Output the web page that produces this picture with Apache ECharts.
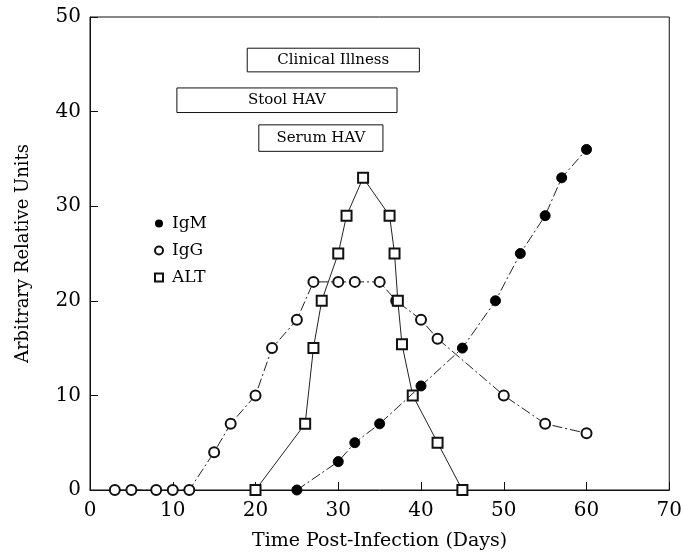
<!DOCTYPE html>
<html>
<head>
<meta charset="utf-8">
<script src="https://cdn.jsdelivr.net/npm/echarts@6/dist/echarts.min.js"></script>
<style>
  html, body { margin: 0; padding: 0; background: #fff; }
  #div_chart { width: 685px; height: 556px; }
</style>
</head>
<body>
<div id="div_chart"></div>
<script>
// IgM (filled circles)
var igmDays = [25, 30, 32, 35, 40, 45, 49, 52, 55, 57, 60];
var igmValues = [0, 3, 5, 7, 11, 15, 20, 25, 29, 33, 36];
// IgG (open circles)
var iggDays = [3, 5, 8, 10, 12, 15, 17, 20, 22, 25, 27, 30, 32, 35, 37, 40, 42, 50, 55, 60];
var iggValues = [0, 0, 0, 0, 0, 4, 7, 10, 15, 18, 22, 22, 22, 22, 20, 18, 16, 10, 7, 6];
// ALT (open squares)
var altDays = [20, 26, 27, 28, 30, 31, 33, 36.2, 36.8, 37.2, 37.7, 39, 42, 45];
var altValues = [0, 7, 15, 20, 25, 29, 33, 29, 25, 20, 15.4, 10, 5, 0];
// period boxes: label, start day, end day, top, bottom
var boxLabels = ['Clinical Illness', 'Stool HAV', 'Serum HAV'];
var boxStart = [19, 10.5, 20.4];
var boxEnd = [39.8, 37.1, 35.4];
var boxTop = [46.7, 42.5, 38.6];
var boxBottom = [44.2, 39.9, 35.8];

var serif = 'DejaVu Serif';

function pairs(xs, ys) {
    var out = [];
    for (let i = 0; i < xs.length; i++) {
        out.push([xs[i], ys[i]]);
    }
    return out;
}

var boxAreas = [];
for (let i = 0; i < boxLabels.length; i++) {
    boxAreas.push([
        {name: boxLabels[i], xAxis: boxStart[i], yAxis: boxTop[i]},
        {xAxis: boxEnd[i], yAxis: boxBottom[i]}
    ]);
}

var myChart = echarts.init(document.getElementById('div_chart'));
var option = {
    animation: false,
    backgroundColor: '#fff',
    grid: {
        left: 90,
        right: 15,
        top: 17,
        bottom: 65,
        show: true,
        borderColor: '#111',
        borderWidth: 1
    },
    legend: {
        orient: 'vertical',
        left: 149,
        top: 210,
        itemGap: 10,
        itemWidth: 8,
        itemHeight: 8,
        textStyle: {fontFamily: serif, fontSize: 17, color: '#000', padding: [0, 0, 0, 4]},
        data: [
            {name: 'IgM', icon: 'circle'},
            {name: 'IgG', icon: 'emptyCircle'},
            {name: 'ALT', icon: 'emptyRect'}
        ]
    },
    xAxis: {
        type: 'value',
        min: 0,
        max: 70,
        interval: 10,
        name: 'Time Post-Infection (Days)',
        nameLocation: 'middle',
        nameGap: 42,
        nameTextStyle: {fontFamily: serif, fontSize: 19, color: '#000'},
        axisLine: {lineStyle: {color: '#111'}},
        axisTick: {inside: true, length: 8, lineStyle: {color: '#111'}},
        axisLabel: {fontFamily: serif, fontSize: 20, color: '#000', margin: 11},
        splitLine: {show: false}
    },
    yAxis: {
        type: 'value',
        min: 0,
        max: 50,
        interval: 10,
        name: 'Arbitrary Relative Units',
        nameLocation: 'middle',
        nameGap: 58,
        nameTextStyle: {fontFamily: serif, fontSize: 18, color: '#000'},
        axisLine: {show: true, lineStyle: {color: '#111'}},
        axisTick: {show: true, inside: true, length: 8, lineStyle: {color: '#111'}},
        axisLabel: {fontFamily: serif, fontSize: 20, color: '#000', margin: 9},
        splitLine: {show: false}
    },
    series: [
        {
            name: 'IgG',
            type: 'line',
            data: pairs(iggDays, iggValues),
            symbol: 'emptyCircle',
            symbolSize: 10,
            z: 3,
            lineStyle: {color: '#222', width: 1, type: [10, 3, 2, 3]},
            itemStyle: {color: '#111', borderWidth: 1.1}
        },
        {
            name: 'ALT',
            type: 'line',
            data: pairs(altDays, altValues),
            symbol: 'emptyRect',
            symbolSize: 10,
            z: 4,
            lineStyle: {color: '#222', width: 1},
            itemStyle: {color: '#111', borderWidth: 1.5}
        },
        {
            name: 'IgM',
            type: 'line',
            data: pairs(igmDays, igmValues),
            symbol: 'circle',
            symbolSize: 10,
            z: 5,
            lineStyle: {color: '#222', width: 1, type: [10, 3, 2, 3]},
            itemStyle: {color: '#000', borderColor: '#000'},
            markArea: {
                silent: true,
                itemStyle: {color: '#fff', borderColor: '#111', borderWidth: 1},
                label: {
                    show: true,
                    position: 'inside',
                    fontFamily: serif,
                    fontSize: 15,
                    color: '#000'
                },
                data: boxAreas
            }
        }
    ]
};
myChart.setOption(option);
</script>
</body>
</html>
